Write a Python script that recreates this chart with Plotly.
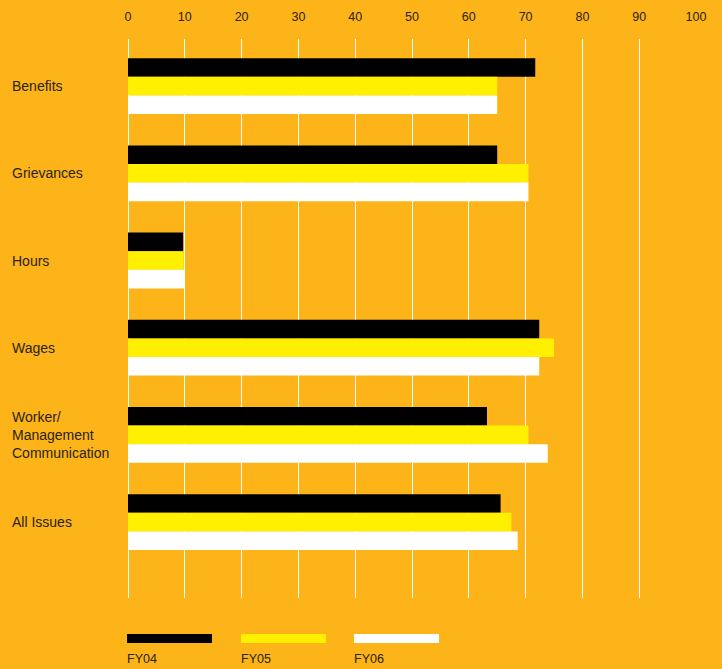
import plotly.graph_objects as go

# Share of cases resolved by issue, per fiscal year
categories = ["Benefits", "Grievances", "Hours", "Wages",
              "Worker/<br>Management<br>Communication", "All Issues"]
fy04 = [71.7, 65.0, 9.7, 72.4, 63.2, 65.6]
fy05 = [65.0, 70.5, 9.8, 75.0, 70.5, 67.5]
fy06 = [65.0, 70.5, 10.0, 72.4, 73.9, 68.6]
series_names = ["FY04", "FY05", "FY06"]
x_ticks = [0, 10, 20, 30, 40, 50, 60, 70, 80, 90, 100]

BG = "#FDB418"
COLORS = ["#000000", "#FFF000", "#FFFFFF"]
TEXT = "#2a2212"
FONT = "Liberation Sans, Arial, sans-serif"

fig = go.Figure()
for name, vals, col in zip(series_names, [fy04, fy05, fy06], COLORS):
    fig.add_trace(go.Bar(
        y=list(range(len(categories))), x=vals, name=name, orientation="h",
        marker=dict(color=col, line=dict(width=0)), showlegend=False,
    ))

W, H = 722, 669
ml, mr, mt, mb = 128, 26, 39, 71
pw = W - ml - mr
ph = H - mt - mb

fig.update_layout(
    width=W, height=H,
    margin=dict(l=ml, r=mr, t=mt, b=mb, autoexpand=False),
    paper_bgcolor=BG, plot_bgcolor=BG,
    barmode="group", bargap=0.36, bargroupgap=0,
    font=dict(family=FONT, color=TEXT),
    xaxis=dict(
        side="top", range=[0, 100], tickvals=x_ticks,
        ticktext=[str(t) for t in x_ticks],
        showgrid=True, gridcolor="#FFFFFF", gridwidth=1,
        zeroline=True, zerolinecolor="#FFFFFF", zerolinewidth=1,
        ticks="outside", ticklen=12, tickcolor=BG,
        tickfont=dict(size=12.5, color=TEXT, family=FONT),
        showline=False, fixedrange=True, automargin=False,
    ),
    yaxis=dict(
        range=[5.87, -0.54], showticklabels=False, showgrid=False,
        zeroline=False, showline=False, ticks="", fixedrange=True,
        automargin=False,
    ),
)

# Category labels, left aligned in the margin
for i, cat in enumerate(categories):
    fig.add_annotation(
        x=(10 - ml) / pw, xref="paper", y=i, yref="y",
        text=cat, showarrow=False, xanchor="left", yanchor="middle",
        align="left", font=dict(size=14, color=TEXT, family=FONT),
    )

# Legend swatches along the bottom with the year beneath each
swatch_x = [127, 241, 354]
for name, col, sx in zip(series_names, COLORS, swatch_x):
    x0 = (sx - ml) / pw
    x1 = (sx + 85 - ml) / pw
    y0 = (H - mb - 643) / ph
    y1 = (H - mb - 634) / ph
    fig.add_shape(type="rect", xref="paper", yref="paper",
                  x0=x0, x1=x1, y0=y0, y1=y1,
                  fillcolor=col, line=dict(width=0))
    fig.add_annotation(
        x=(sx - 2 - ml) / pw, xref="paper", y=(H - mb - 659) / ph,
        yref="paper", text=name, showarrow=False, xanchor="left",
        yanchor="middle", font=dict(size=12.5, color=TEXT, family=FONT),
    )

fig.write_html("out.html")
